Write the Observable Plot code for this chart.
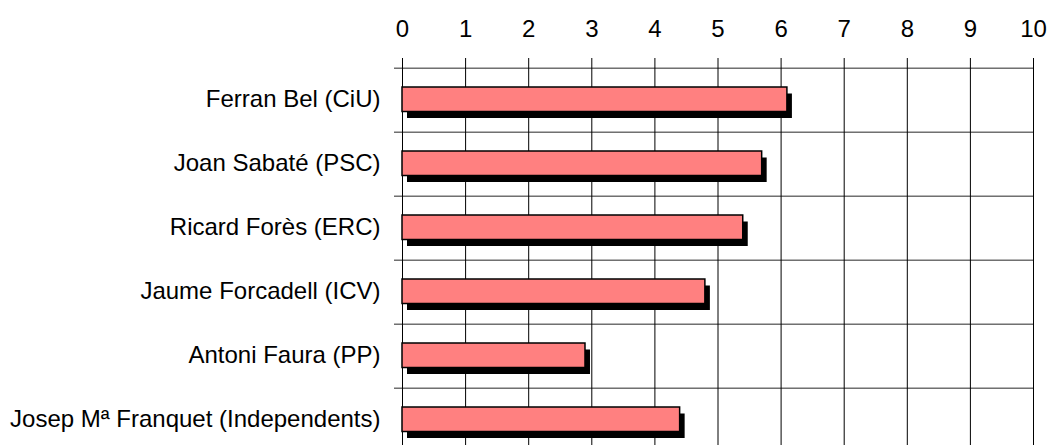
<!DOCTYPE html>
<html><head><meta charset="utf-8">
<script src="https://cdn.jsdelivr.net/npm/d3@7"></script>
<script src="https://cdn.jsdelivr.net/npm/@observablehq/plot@0.6"></script>
<style>html,body{margin:0;padding:0;background:#fff;overflow:hidden}</style>
</head><body><div id="chart"></div>
<script>
const candidates = [
  "Ferran Bel (CiU)",
  "Joan Sabaté (PSC)",
  "Ricard Forès (ERC)",
  "Jaume Forcadell (ICV)",
  "Antoni Faura (PP)",
  "Josep Mª Franquet (Independents)"
];
const scores = [6.1, 5.7, 5.4, 4.8, 2.9, 4.4];
const xTicks = [0, 1, 2, 3, 4, 5, 6, 7, 8, 9, 10];

const data = candidates.map((name, i) => ({name, score: scores[i]}));

const chart = Plot.plot({
  width: 1051,
  height: 445,
  marginTop: 58,
  marginBottom: 0,
  marginLeft: 402,
  marginRight: 18,
  style: {fontFamily: "'Liberation Sans', Arial, sans-serif", fontSize: "24px", color: "#000", background: "#fff"},
  x: {domain: [0, 10], range: [402, 1033], ticks: xTicks, label: null},
  y: {domain: candidates, range: [66, 454], padding: 0, label: null},
  marks: [
    Plot.ruleX(xTicks, {x: d => d, stroke: "#000", strokeWidth: 1, strokeOpacity: 1}),
    Plot.ruleY(candidates, {y: d => d, dy: -32.33, insetLeft: -8, stroke: "#000", strokeOpacity: 0.85}),
    Plot.barX(data, {x: "score", y: "name", insetTop: 19, insetBottom: 20.5, dx: 5, dy: 6.5, fill: "#000"}),
    Plot.barX(data, {x: "score", y: "name", insetTop: 19, insetBottom: 20.5, fill: "#ff8080", stroke: "#000", strokeWidth: 1.5}),
    Plot.axisX({anchor: "top", ticks: xTicks, tickSize: 0, tickPadding: 22, tickFormat: d => String(d), fill: "#000"}),
    Plot.axisY({tickSize: 0, tickPadding: 22, fill: "#000", dy: -1})
  ]
});
document.getElementById("chart").appendChild(chart);
</script>
</body></html>
